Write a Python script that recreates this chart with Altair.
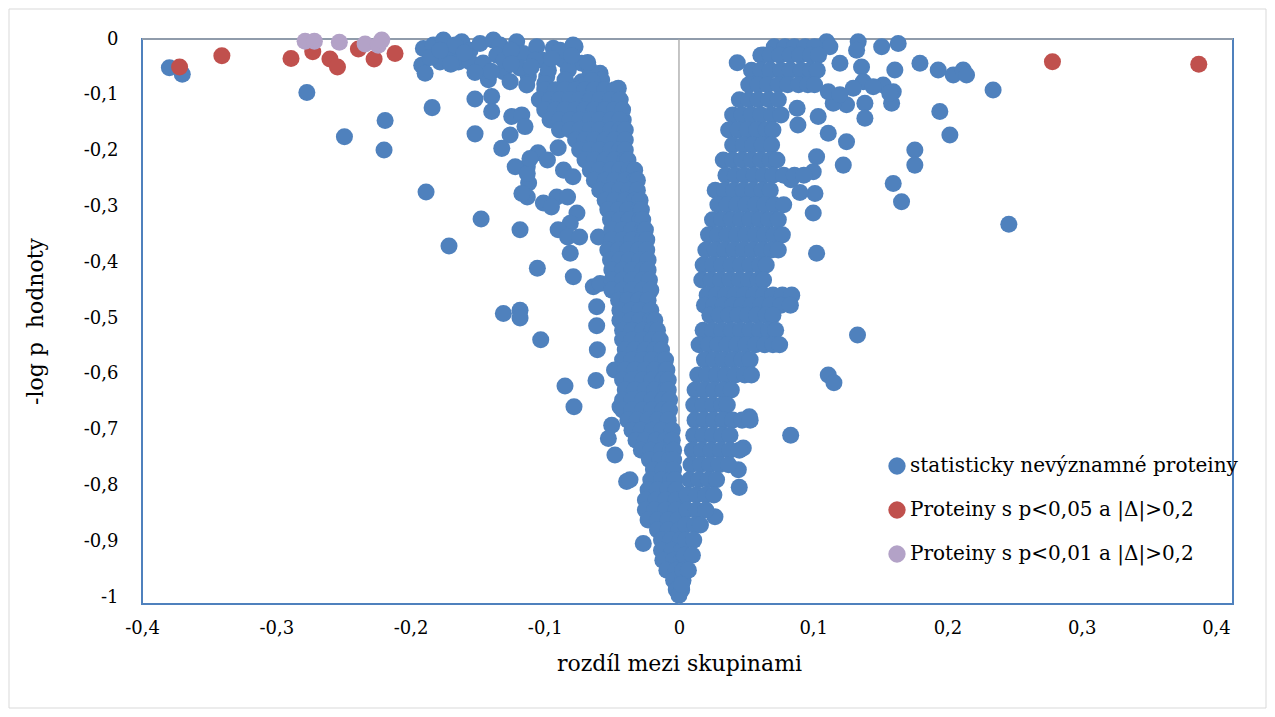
import altair as alt
import pandas as pd

# ---- series names / colours -------------------------------------------
series_names = ["statisticky nevýznamné proteiny",
                "Proteiny s p<0,05 a |Δ|>0,2",
                "Proteiny s p<0,01 a |Δ|>0,2"]
series_colors = ["#4F81BD", "#C0504D", "#B3A2C7"]

x_ticks = [-0.4, -0.3, -0.2, -0.1, 0.0, 0.1, 0.2, 0.3, 0.4]
y_ticks = [0.0, -0.1, -0.2, -0.3, -0.4, -0.5, -0.6, -0.7, -0.8, -0.9, -1.0]

# ---- red points (p<0,05) -----------------------------------------------
red_x = [-0.372, -0.3405, -0.289, -0.2728, -0.260, -0.2544, -0.2388, -0.2271, -0.2115, 0.2782, 0.3872]
red_y = [-0.050, -0.030, -0.035, -0.023, -0.036, -0.050, -0.018, -0.036, -0.026, -0.0406, -0.0454]

# ---- purple points (p<0,01) --------------------------------------------
purple_x = [-0.2785, -0.2716, -0.253, -0.2338, -0.224, -0.2214]
purple_y = [-0.004, -0.004, -0.006, -0.009, -0.011, -0.002]

# ---- blue: scattered points, upper-left band ---------------------------
blue_left_top = [
    (-0.3796, -0.0515), (-0.370, -0.063),
    (-0.2772, -0.096), (-0.2492, -0.175), (-0.2189, -0.146), (-0.2197, -0.199),
    (-0.1884, -0.274), (-0.1839, -0.123), (-0.1713, -0.371), (-0.1474, -0.3226),
    (-0.1519, -0.170), (-0.152, -0.1075), (-0.1055, -0.411), (-0.1308, -0.492),
    (-0.1184, -0.486), (-0.1184, -0.500), (-0.103, -0.539), (-0.0849, -0.622),
    (-0.0782, -0.659), (-0.0787, -0.426), (-0.1184, -0.342),
    (-0.1904, -0.017), (-0.1916, -0.047), (-0.1891, -0.0615), (-0.183, -0.011),
    (-0.1755, -0.002), (-0.1705, -0.026), (-0.1643, -0.041), (-0.1618, -0.005),
    (-0.178, -0.041), (-0.1556, -0.020), (-0.1482, -0.008), (-0.147, -0.050),
    (-0.142, -0.073), (-0.1383, -0.002), (-0.1333, -0.011), (-0.1357, -0.029),
    (-0.1308, -0.0585), (-0.1258, -0.0765), (-0.1209, -0.005), (-0.116, -0.026),
    (-0.1122, -0.0675), (-0.1134, -0.0825), (-0.106, -0.0137), (-0.1022, -0.0376),
    (-0.0936, -0.0167), (-0.0985, -0.0675), (-0.0861, -0.0376), (-0.0774, -0.0137),
    (-0.0725, -0.0436), (-0.0824, -0.0556), (-0.0588, -0.0615), (-0.0576, -0.0735),
    (-0.0452, -0.0884), (-0.0439, -0.109), (-0.0415, -0.145), (-0.0725, -0.0765),
    (-0.0836, -0.0795), (-0.0936, -0.097),
    (-0.1854, -0.033), (-0.1668, -0.011), (-0.1556, -0.041), (-0.1303, -0.038),
    (-0.1184, -0.052), (-0.1072, -0.038), (-0.0973, -0.056), (-0.0886, -0.020),
    (-0.0849, -0.073), (-0.0700, -0.082), (-0.0663, -0.056), (-0.0789, -0.011),
    (-0.1459, -0.043), (-0.1780, -0.020),
    (-0.170, -0.045), (-0.160, -0.025), (-0.125, -0.020), (-0.110, -0.050),
    (-0.095, -0.035), (-0.080, -0.030), (-0.065, -0.075), (-0.100, -0.080),
    (-0.125, -0.045), (-0.140, -0.058), (-0.152, -0.060), (-0.068, -0.042),
    (-0.1395, -0.103), (-0.1395, -0.130), (-0.1246, -0.139), (-0.1171, -0.136),
    (-0.1147, -0.157), (-0.1258, -0.172), (-0.132, -0.196),
    (-0.105, -0.204), (-0.113, -0.229), (-0.122, -0.229), (-0.112, -0.258),
    (-0.113, -0.283), (-0.101, -0.294), (-0.091, -0.283), (-0.086, -0.235),
    (-0.079, -0.247), (-0.090, -0.195), (-0.098, -0.217), (-0.083, -0.283),
    (-0.076, -0.312), (-0.081, -0.330), (-0.090, -0.342), (-0.083, -0.355),
    (-0.074, -0.355), (-0.081, -0.384), (-0.060, -0.355), (-0.095, -0.301),
    (-0.117, -0.277), (-0.113, -0.241), (-0.111, -0.214),
    (-0.0613, -0.480), (-0.0638, -0.444), (-0.0588, -0.438), (-0.0613, -0.514),
    (-0.0608, -0.557), (-0.0618, -0.612), (-0.0501, -0.692), (-0.0526, -0.716),
    (-0.0477, -0.7455), (-0.039, -0.793), (-0.0365, -0.790), (-0.0266, -0.904),
    (-0.0439, -0.659),
]

# ---- blue: dense left arm, rows of (y, [x ...]) -------------------------
left_arm_rows = [
    (-0.091, [-0.100, -0.092, -0.085, -0.077, -0.070, -0.063, -0.055, -0.048]),
    (-0.109, [-0.104, -0.096, -0.089, -0.081, -0.074, -0.066, -0.059, -0.051, -0.044]),
    (-0.127, [-0.100, -0.092, -0.085, -0.077, -0.070, -0.063, -0.055, -0.048, -0.042]),
    (-0.145, [-0.096, -0.089, -0.081, -0.074, -0.066, -0.059, -0.051, -0.044]),
    (-0.163, [-0.089, -0.081, -0.074, -0.066, -0.059, -0.051, -0.044, -0.040]),
    (-0.181, [-0.077, -0.070, -0.063, -0.055, -0.048, -0.040]),
    (-0.199, [-0.074, -0.066, -0.059, -0.051, -0.044, -0.040]),
    (-0.217, [-0.070, -0.063, -0.055, -0.048, -0.040, -0.038]),
    (-0.235, [-0.066, -0.059, -0.051, -0.044, -0.037, -0.033]),
    (-0.253, [-0.063, -0.055, -0.048, -0.040, -0.033, -0.031]),
    (-0.271, [-0.059, -0.051, -0.044, -0.037, -0.031]),
    (-0.289, [-0.055, -0.048, -0.040, -0.033, -0.029]),
    (-0.306, [-0.053, -0.045, -0.038, -0.030, -0.028]),
    (-0.324, [-0.051, -0.044, -0.037, -0.029, -0.027]),
    (-0.342, [-0.050, -0.042, -0.035, -0.027, -0.025]),
    (-0.360, [-0.050, -0.042, -0.035, -0.027, -0.024]),
    (-0.378, [-0.053, -0.045, -0.038, -0.030, -0.024]),
    (-0.396, [-0.051, -0.044, -0.037, -0.029, -0.023]),
    (-0.414, [-0.050, -0.042, -0.035, -0.027, -0.023]),
    (-0.432, [-0.050, -0.042, -0.035, -0.027, -0.022]),
    (-0.450, [-0.050, -0.042, -0.035, -0.027, -0.021]),
    (-0.468, [-0.045, -0.038, -0.030, -0.023]),
    (-0.486, [-0.044, -0.036, -0.029, -0.021]),
    (-0.504, [-0.044, -0.036, -0.029, -0.021, -0.018]),
    (-0.522, [-0.042, -0.035, -0.027, -0.020, -0.016]),
    (-0.539, [-0.042, -0.035, -0.027, -0.020, -0.014]),
    (-0.557, [-0.040, -0.033, -0.025, -0.018, -0.013]),
    (-0.575, [-0.042, -0.035, -0.027, -0.020, -0.012, -0.010]),
    (-0.593, [-0.048, -0.040, -0.033, -0.025, -0.018, -0.010, -0.009]),
    (-0.611, [-0.042, -0.035, -0.027, -0.020, -0.012, -0.008]),
    (-0.629, [-0.040, -0.033, -0.025, -0.018, -0.010, -0.008]),
    (-0.647, [-0.042, -0.035, -0.027, -0.020, -0.012, -0.007]),
    (-0.665, [-0.042, -0.035, -0.027, -0.020, -0.012, -0.007]),
    (-0.683, [-0.038, -0.031, -0.023, -0.016, -0.008]),
    (-0.701, [-0.035, -0.028, -0.020, -0.013, -0.005]),
    (-0.719, [-0.032, -0.025, -0.017, -0.010, -0.005]),
    (-0.737, [-0.028, -0.021, -0.013, -0.006, -0.004]),
    (-0.754, [-0.022, -0.014, -0.007, -0.004]),
    (-0.772, [-0.019, -0.012, -0.004]),
    (-0.790, [-0.021, -0.013, -0.006, -0.003]),
    (-0.808, [-0.023, -0.016, -0.008, -0.002]),
    (-0.826, [-0.025, -0.017, -0.010, -0.002]),
    (-0.844, [-0.025, -0.018, -0.010, -0.002]),
    (-0.862, [-0.023, -0.016, -0.008, -0.001]),
    (-0.880, [-0.016, -0.008, 0.000]),
    (-0.898, [-0.013, -0.006, 0.001]),
    (-0.916, [-0.013, -0.005, 0.002]),
    (-0.934, [-0.012, -0.004, 0.002]),
    (-0.952, [-0.009, -0.002, 0.003]),
    (-0.970, [-0.004, 0.003]),
    (-0.987, [-0.002, 0.002]),
    (-0.997, [0.000]),
]

# ---- blue: dense right arm, rows of (y, [x ...]) ------------------------
right_arm_rows = [
    (-0.014, [0.071, 0.079, 0.086, 0.094, 0.101]),
    (-0.029, [0.061, 0.068, 0.075, 0.083, 0.090, 0.098, 0.104]),
    (-0.056, [0.054, 0.061, 0.068, 0.076, 0.083, 0.091, 0.098, 0.103]),
    (-0.082, [0.052, 0.059, 0.066, 0.074, 0.081, 0.089, 0.096, 0.101]),
    (-0.109, [0.045, 0.052, 0.059, 0.067, 0.074]),
    (-0.136, [0.040, 0.047, 0.054, 0.061, 0.069, 0.076]),
    (-0.163, [0.037, 0.044, 0.051, 0.058, 0.065, 0.070]),
    (-0.190, [0.040, 0.048, 0.055, 0.062, 0.069]),
    (-0.217, [0.033, 0.040, 0.047, 0.054, 0.061, 0.068, 0.073]),
    (-0.244, [0.035, 0.042, 0.049, 0.056, 0.063, 0.070, 0.078, 0.086, 0.093]),
    (-0.271, [0.027, 0.034, 0.041, 0.048, 0.055, 0.062, 0.068]),
    (-0.297, [0.029, 0.036, 0.043, 0.050, 0.057, 0.064, 0.071, 0.078]),
    (-0.324, [0.025, 0.032, 0.039, 0.046, 0.053, 0.060, 0.067, 0.074]),
    (-0.351, [0.022, 0.029, 0.036, 0.043, 0.050, 0.057, 0.064, 0.071, 0.077]),
    (-0.378, [0.020, 0.027, 0.034, 0.041, 0.048, 0.055, 0.062, 0.069, 0.074]),
    (-0.405, [0.018, 0.025, 0.032, 0.039, 0.046, 0.053, 0.060, 0.065]),
    (-0.432, [0.017, 0.024, 0.031, 0.038, 0.045, 0.052, 0.059, 0.063]),
    (-0.459, [0.021, 0.028, 0.035, 0.042, 0.049, 0.056, 0.063, 0.070, 0.077, 0.084]),
    (-0.477, [0.019, 0.026, 0.033, 0.040, 0.047, 0.054, 0.061, 0.068, 0.076, 0.083]),
    (-0.495, [0.023, 0.030, 0.037, 0.044, 0.051, 0.058, 0.065, 0.070]),
    (-0.522, [0.018, 0.025, 0.032, 0.039, 0.046, 0.053, 0.060, 0.067, 0.072]),
    (-0.548, [0.015, 0.022, 0.029, 0.036, 0.043, 0.050, 0.057, 0.064, 0.070, 0.075]),
    (-0.575, [0.019, 0.026, 0.033, 0.040, 0.047, 0.053]),
    (-0.602, [0.014, 0.021, 0.028, 0.035, 0.042, 0.049, 0.054]),
    (-0.629, [0.012, 0.019, 0.026, 0.033, 0.039]),
    (-0.656, [0.011, 0.018, 0.025, 0.032, 0.036]),
    (-0.683, [0.012, 0.019, 0.026, 0.033, 0.040, 0.047, 0.053]),
    (-0.710, [0.011, 0.018, 0.025, 0.032, 0.038]),
    (-0.737, [0.010, 0.017, 0.024, 0.031, 0.038, 0.045]),
    (-0.763, [0.009, 0.016, 0.023, 0.030, 0.037]),
    (-0.790, [0.008, 0.015, 0.022, 0.028]),
    (-0.817, [0.006, 0.013, 0.020, 0.026]),
    (-0.844, [0.006, 0.013, 0.020]),
    (-0.871, [0.005, 0.012, 0.016]),
    (-0.898, [0.005, 0.011]),
    (-0.925, [0.004, 0.010]),
    (-0.952, [0.003, 0.007]),
    (-0.978, [0.002]),
]

# ---- blue: scattered points on the right ------------------------------
blue_right_out = [
    (0.110, -0.005), (0.1124, -0.014), (0.1335, -0.005), (0.1323, -0.020),
    (0.151, -0.014), (0.1633, -0.008), (0.1795, -0.0436), (0.1931, -0.0556),
    (0.2043, -0.0645), (0.2117, -0.0556), (0.2142, -0.0645), (0.1608, -0.0556),
    (0.1596, -0.0944), (0.1584, -0.115), (0.1521, -0.0825), (0.136, -0.050),
    (0.1373, -0.0765), (0.1447, -0.0855), (0.1385, -0.115), (0.1385, -0.142),
    (0.1298, -0.0884), (0.1248, -0.118), (0.1149, -0.115), (0.1112, -0.0944),
    (0.1199, -0.100), (0.1199, -0.0436), (0.1037, -0.139), (0.1112, -0.169),
    (0.1248, -0.184), (0.1224, -0.226), (0.1025, -0.211), (0.100, -0.238),
    (0.1013, -0.277), (0.100, -0.312), (0.1025, -0.384), (0.1943, -0.130),
    (0.2018, -0.172), (0.1757, -0.199), (0.1757, -0.226), (0.1596, -0.259),
    (0.1658, -0.2915), (0.0434, -0.0425), (0.0628, -0.0287), (0.157, -0.097),
    (0.234, -0.0914), (0.2457, -0.332), (0.133, -0.5305), (0.1112, -0.602),
    (0.1154, -0.616), (0.0832, -0.710), (0.0524, -0.677), (0.0479, -0.733),
    (0.0442, -0.772), (0.0449, -0.8035), (0.0268, -0.856), (0.088, -0.124),
    (0.0886, -0.154), (0.0834, -0.252), (0.0901, -0.275),
]

# ---- assemble table ----------------------------------------------------
recs = []
for (x, y) in blue_left_top + blue_right_out:
    recs.append((x, y, series_names[0], 0))
for (y, xs) in left_arm_rows + right_arm_rows:
    for x in xs:
        recs.append((x, y, series_names[0], 0))
for x, y in zip(red_x, red_y):
    recs.append((x, y, series_names[1], 1))
for x, y in zip(purple_x, purple_y):
    recs.append((x, y, series_names[2], 2))
df = pd.DataFrame(recs, columns=["x", "y", "skupina", "poradi"])

FONT = "DejaVu Serif"
label_expr = ("(datum.value < -0.0001 ? '-' : '') + (abs(datum.value) < 0.0001 ? '0' : "
              "(abs(abs(datum.value) - 1) < 0.0001 ? '1' : "
              "replace(format(abs(datum.value), '.1f'), '.', ',')))")

xscale = alt.Scale(domain=[-0.4, 0.4127], nice=False, zero=False)
yscale = alt.Scale(domain=[-1.0125, 0.0], nice=False, zero=False)

xaxis = alt.Axis(values=x_ticks, labelExpr=label_expr, grid=False, ticks=False,
                 tickSize=0, domain=False, labelPadding=24, labelBaseline="middle",
                 labelFlush=False,
                 labelFont=FONT, labelFontSize=18, labelColor="black",
                 title="rozdíl mezi skupinami", titleFont=FONT, titleFontSize=22,
                 titleFontWeight="normal", titleColor="black",
                 titleX=537, titleY=59, titleBaseline="middle", titleAlign="center")
yaxis = alt.Axis(values=y_ticks, labelExpr=label_expr, grid=False, ticks=False,
                 tickSize=0, domain=False, labelPadding=24, labelBaseline="middle",
                 labelAlign="right", labelFlush=False,
                 labelFont=FONT, labelFontSize=18, labelColor="black",
                 title="-log p\u00a0 hodnoty", titleFont=FONT, titleFontSize=22,
                 titleFontWeight="normal", titleColor="black",
                 titleX=-107, titleY=282, titleAngle=-90,
                 titleBaseline="middle", titleAlign="center")

frame = alt.Chart(pd.DataFrame({"a": [0]})).mark_rect(
    fill="transparent", stroke="#D9D9D9", strokeWidth=1
).encode(x=alt.value(-133), x2=alt.value(1124), y=alt.value(-30), y2=alt.value(669))

vline = alt.Chart(pd.DataFrame({"x": [0.0]})).mark_rule(
    color="#A6A6A6", strokeWidth=1.3
).encode(x=alt.X("x:Q", scale=xscale, axis=xaxis))

hline = alt.Chart(pd.DataFrame({"y": [0.0]})).mark_rule(
    color="#A6A6A6", strokeWidth=1.5
).encode(y=alt.Y("y:Q", scale=yscale, axis=yaxis))

points = alt.Chart(df).mark_circle(size=290, opacity=1).encode(
    x=alt.X("x:Q", scale=xscale, axis=xaxis),
    y=alt.Y("y:Q", scale=yscale, axis=yaxis),
    color=alt.Color("skupina:N",
                    scale=alt.Scale(domain=series_names, range=series_colors),
                    legend=alt.Legend(title=None, orient="none", legendX=745, legendY=417,
                                      symbolType="circle", symbolSize=300,
                                      symbolStrokeWidth=0, symbolOpacity=1,
                                      labelFont=FONT, labelFontSize=20,
                                      labelColor="black", labelLimit=600,
                                      rowPadding=24, labelOffset=3, padding=0)),
    order=alt.Order("poradi:Q"),
)

chart = alt.layer(frame, vline, hline, points).properties(
    width=1091, height=565,
    autosize=alt.AutoSizeParams(type="none"),
    padding={"left": 142, "top": 39, "right": 42, "bottom": 113},
    background="white",
).configure_view(stroke="#4F81BD", strokeWidth=2)

chart.save("out.html", embed_options={"renderer": "svg", "actions": False})
